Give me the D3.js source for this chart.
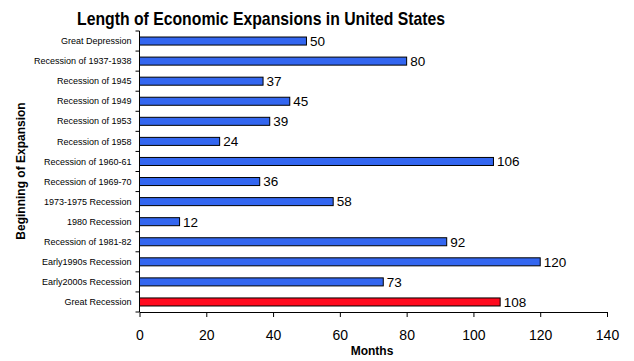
<!DOCTYPE html>
<html>
<head>
<meta charset="utf-8">
<script src="https://cdn.jsdelivr.net/npm/d3@7"></script>
<style>
    body { margin: 0; background: #fff; }
    text { font-family: Arial, "Liberation Sans", sans-serif; }
</style>
</head>
<body>
<div id="chart"></div>
<script>
var categories = ["Great Depression", "Recession of 1937-1938", "Recession of 1945", "Recession of 1949",
    "Recession of 1953", "Recession of 1958", "Recession of 1960-61", "Recession of 1969-70",
    "1973-1975 Recession", "1980 Recession", "Recession of 1981-82", "Early1990s Recession",
    "Early2000s Recession", "Great Recession"];
var months = [50, 80, 37, 45, 39, 24, 106, 36, 58, 12, 92, 120, 73, 108];
var xTicks = [0, 20, 40, 60, 80, 100, 120, 140];

function init() {
    var W = 634, H = 361;
    var left = 139.5, right = 607, top = 31, bottom = 312;

    var svg = d3.select("#chart")
        .append("svg")
        .attr("width", W)
        .attr("height", H);

    var xScale = d3.scaleLinear()
        .domain([0, 140])
        .range([left, right]);

    var yScale = d3.scaleBand()
        .domain(categories)
        .range([top, bottom])
        .paddingInner(0.6)
        .paddingOuter(0.3);

    // title
    svg.append("text")
        .attr("x", 261)
        .attr("y", 25)
        .attr("text-anchor", "middle")
        .attr("font-size", "19px")
        .attr("font-weight", "bold")
        .attr("textLength", 368)
        .attr("lengthAdjust", "spacingAndGlyphs")
        .text("Length of Economic Expansions in United States");

    // bars
    svg.selectAll("rect.bar")
        .data(months)
        .enter()
        .append("rect")
        .attr("class", "bar")
        .attr("x", xScale(0))
        .attr("y", function(d, i) { return yScale(categories[i]); })
        .attr("width", function(d) { return xScale(d) - xScale(0); })
        .attr("height", yScale.bandwidth())
        .attr("fill", function(d, i) { return i === categories.length - 1 ? "#ff0a1e" : "#3366f0"; })
        .attr("stroke", "#000")
        .attr("stroke-width", 1);

    // value labels
    svg.selectAll("text.val")
        .data(months)
        .enter()
        .append("text")
        .attr("class", "val")
        .attr("x", function(d) { return xScale(d) + 3.5; })
        .attr("y", function(d, i) { return yScale(categories[i]) + yScale.bandwidth() / 2; })
        .attr("dy", "0.36em")
        .attr("font-size", "13.5px")
        .text(function(d) { return d; });

    // y axis: ticks at band boundaries
    var yAxis = svg.append("g")
        .attr("transform", "translate(" + left + ",0)");
    yAxis.append("line")
        .attr("x1", 0).attr("x2", 0)
        .attr("y1", top).attr("y2", bottom)
        .attr("stroke", "#000");
    yAxis.selectAll("line.tk")
        .data(d3.range(categories.length + 1))
        .enter()
        .append("line")
        .attr("class", "tk")
        .attr("x1", -4).attr("x2", 0)
        .attr("y1", function(i) { return top + i * (bottom - top) / categories.length; })
        .attr("y2", function(i) { return top + i * (bottom - top) / categories.length; })
        .attr("stroke", "#000");
    yAxis.selectAll("text")
        .data(categories)
        .enter()
        .append("text")
        .attr("x", -8)
        .attr("y", function(d) { return yScale(d) + yScale.bandwidth() / 2; })
        .attr("dy", "0.35em")
        .attr("text-anchor", "end")
        .attr("font-size", "9px")
        .text(function(d) { return d; });

    // x axis
    var xAxis = d3.axisBottom(xScale)
        .tickValues(xTicks)
        .tickSize(5)
        .tickSizeOuter(0);
    var gx = svg.append("g")
        .attr("transform", "translate(0," + bottom + ")")
        .call(xAxis);
    gx.select(".domain").attr("stroke", "#000");
    gx.selectAll(".tick line").attr("stroke", "#000");
    gx.selectAll(".tick text")
        .attr("font-size", "14px")
        .attr("font-family", "Arial, 'Liberation Sans', sans-serif")
        .attr("fill", "#000")
        .attr("y", 18);

    // axis titles
    svg.append("text")
        .attr("x", 372)
        .attr("y", 355)
        .attr("text-anchor", "middle")
        .attr("font-size", "12px")
        .attr("font-weight", "bold")
        .text("Months");

    svg.append("text")
        .attr("transform", "translate(25,171) rotate(-90)")
        .attr("text-anchor", "middle")
        .attr("font-size", "12px")
        .attr("font-weight", "bold")
        .text("Beginning of Expansion");
}

window.onload = init;
</script>
</body>
</html>
